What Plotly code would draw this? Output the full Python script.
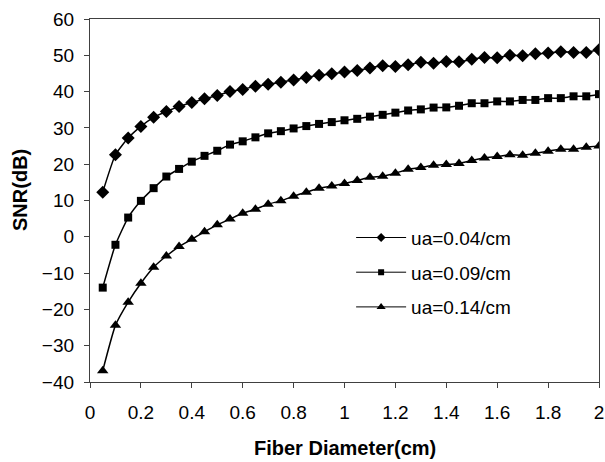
import plotly.graph_objects as go

fiber_diameter = [0.05, 0.10, 0.15, 0.20, 0.25, 0.30, 0.35, 0.40, 0.45, 0.50,
                  0.55, 0.60, 0.65, 0.70, 0.75, 0.80, 0.85, 0.90, 0.95, 1.00,
                  1.05, 1.10, 1.15, 1.20, 1.25, 1.30, 1.35, 1.40, 1.45, 1.50,
                  1.55, 1.60, 1.65, 1.70, 1.75, 1.80, 1.85, 1.90, 1.95, 2.00]

snr_ua004 = [12.3, 22.6, 27.2, 30.4, 32.9, 34.5, 35.9, 37.0, 38.0, 38.9,
             40.0, 40.6, 41.5, 42.0, 42.6, 43.2, 43.9, 44.5, 44.9, 45.4,
             45.8, 46.5, 47.1, 46.9, 47.4, 48.1, 47.8, 48.3, 48.2, 48.9,
             49.4, 49.3, 50.0, 49.9, 50.4, 50.6, 51.0, 50.8, 50.8, 51.5]

snr_ua009 = [-14.0, -2.2, 5.3, 9.9, 13.4, 16.6, 18.7, 20.7, 22.3, 23.7,
             25.4, 26.3, 27.4, 28.5, 29.1, 29.85, 30.5, 31.1, 31.6, 32.1,
             32.5, 33.1, 33.6, 34.2, 34.8, 35.1, 35.6, 35.65, 36.1, 36.8,
             36.8, 37.3, 37.3, 37.7, 37.7, 38.2, 38.2, 38.7, 38.7, 39.3]

snr_ua014 = [-36.9, -24.4, -18.0, -12.8, -8.4, -5.3, -2.7, -0.7, 1.4, 3.3,
             4.9, 6.5, 7.6, 9.0, 9.9, 11.2, 12.3, 13.4, 14.0, 14.7,
             15.5, 16.4, 16.7, 17.5, 18.6, 19.1, 19.7, 19.9, 20.2, 21.0,
             21.7, 22.1, 22.6, 22.5, 23.0, 23.6, 24.1, 24.1, 24.7, 25.0]

series_names = ["ua=0.04/cm", "ua=0.09/cm", "ua=0.14/cm"]
x_ticks = [0, 0.2, 0.4, 0.6, 0.8, 1, 1.2, 1.4, 1.6, 1.8, 2]
y_ticks = [-40, -30, -20, -10, 0, 10, 20, 30, 40, 50, 60]
x_title = "Fiber Diameter(cm)"
y_title = "SNR(dB)"

FONT = "Liberation Sans, Arial, Helvetica, sans-serif"

fig = go.Figure()
styles = [("diamond", 10, 7), ("square", 8, 6), ("triangle-up", 10, 8)]
for i, (name, ys) in enumerate(zip(series_names, [snr_ua004, snr_ua009, snr_ua014])):
    sym, sz, lsz = styles[i]
    fig.add_trace(go.Scatter(
        x=fiber_diameter, y=ys, name=name, mode="lines+markers",
        line=dict(color="black", width=1.5, shape="spline", smoothing=0.5),
        marker=dict(symbol=sym, size=sz, color="black"),
        showlegend=False, hoverinfo="skip",
    ))
    # legend-only entry with smaller symbol, as in the reference legend
    fig.add_trace(go.Scatter(
        x=[None], y=[None], name=name, mode="lines+markers",
        line=dict(color="black", width=1),
        marker=dict(symbol=sym, size=lsz, color="black"),
        legendgroup=f"g{i}", showlegend=True,
    ))

axis_common = dict(
    showline=True, linecolor="#404040", linewidth=1.2, mirror=True,
    showgrid=False, zeroline=False, automargin=False,
    ticks="outside", ticklen=5, tickwidth=1, tickcolor="#404040",
    tickfont=dict(family=FONT, size=19, color="black"),
)

fig.update_layout(
    width=605, height=462,
    margin=dict(l=90, r=6, t=19, b=80, autoexpand=False),
    paper_bgcolor="white", plot_bgcolor="white",
    font=dict(family=FONT, size=19, color="black"),
    showlegend=True,
    legend=dict(x=0.513, y=0.45, xanchor="left", yanchor="top",
                bgcolor="rgba(0,0,0,0)", borderwidth=0,
                font=dict(family=FONT, size=19, color="black"),
                itemwidth=50, tracegroupgap=7),
    xaxis=dict(range=[0, 2], tickvals=x_ticks, ticktext=[str(t) for t in x_ticks],
               ticklabelstandoff=8, **axis_common),
    yaxis=dict(range=[-40, 60], tickvals=y_ticks, ticklabelstandoff=6,
               **axis_common),
    annotations=[
        dict(text=f"<b>{x_title}</b>", xref="paper", yref="paper",
             x=(345 - 90) / 509, y=-66 / 363, xanchor="center", yanchor="middle",
             showarrow=False, font=dict(family=FONT, size=20, color="black")),
        dict(text=f"<b>{y_title}</b>", xref="paper", yref="paper",
             x=-70 / 509, y=0.529, xanchor="center", yanchor="middle", textangle=-90,
             showarrow=False, font=dict(family=FONT, size=20, color="black")),
    ],
)

fig.write_html("out.html", config={"displayModeBar": False},
               post_script="document.body.style.margin='0';document.body.style.overflow='hidden';")
